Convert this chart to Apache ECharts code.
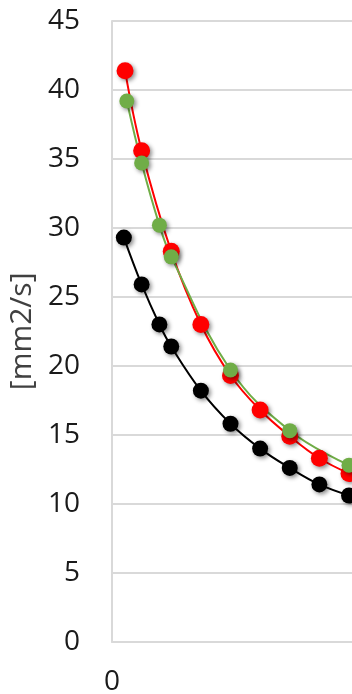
<!DOCTYPE html>
<html><head><meta charset="utf-8">
<script src="https://cdn.jsdelivr.net/npm/echarts@6/dist/echarts.min.js"></script>
<style>html,body{margin:0;padding:0;background:#fff}#c{width:352px;height:694px}</style>
</head><body><div id="c"></div>
<script>
var xRed = [4.4, 10, 20, 30, 40, 50, 60, 70, 80];
var yRed = [41.4, 35.6, 28.3, 23.0, 19.3, 16.8, 14.9, 13.3, 12.2];
var xGreen = [5, 10, 16, 20, 40, 60, 80];
var yGreen = [39.2, 34.7, 30.2, 27.9, 19.7, 15.3, 12.8];
var xBlack = [4, 10, 16, 20, 30, 40, 50, 60, 70, 80];
var yBlack = [29.3, 25.9, 23.0, 21.4, 18.2, 15.8, 14.0, 12.6, 11.4, 10.6];
var yTicks = [0, 5, 10, 15, 20, 25, 30, 35, 40, 45];
var yName = '[mm2/s]';

function pairs(xs, ys){ return xs.map(function(x,i){ return [x, ys[i]]; }); }
function mk(name, xs, ys, color, size){
  return {
    name: name, type: 'line', smooth: 0.4, data: pairs(xs, ys),
    symbol: 'circle', symbolSize: size,
    lineStyle: {color: color, width: 2},
    itemStyle: {color: color, shadowBlur: 4, shadowOffsetX: 2, shadowOffsetY: 2, shadowColor: 'rgba(0,0,0,0.45)'},
    emphasis: {disabled: true}, animation: false
  };
}
var chart = echarts.init(document.getElementById('c'));
chart.setOption({
  animation: false,
  grid: {left: 112, top: 21, bottom: 52.3, width: 296.25, containLabel: false, outerBoundsMode: 'none'},
  xAxis: {
    type: 'value', min: 0, max: 100, interval: 100,
    axisLine: {show: true, lineStyle: {color: '#d9d9d9', width: 2}},
    axisTick: {show: false}, splitLine: {show: false},
    axisLabel: {fontFamily: 'Open Sans', fontSize: 28, color: '#1a1a1a', margin: 26}
  },
  yAxis: {
    type: 'value', min: yTicks[0], max: yTicks[yTicks.length-1], interval: 5,
    name: yName, nameLocation: 'middle', nameRotate: 90, nameGap: 69,
    nameTextStyle: {fontFamily: 'Open Sans', fontSize: 30, color: '#404040'},
    axisLine: {show: true, lineStyle: {color: '#d9d9d9', width: 2}},
    axisTick: {show: false},
    splitLine: {show: true, lineStyle: {color: '#d9d9d9', width: 2}},
    axisLabel: {fontFamily: 'Open Sans', fontSize: 28, color: '#1a1a1a', margin: 32}
  },
  series: [
    mk('black', xBlack, yBlack, '#000000', 16),
    mk('red', xRed, yRed, '#ff0000', 17),
    mk('green', xGreen, yGreen, '#70ad47', 15)
  ]
});
</script></body></html>
